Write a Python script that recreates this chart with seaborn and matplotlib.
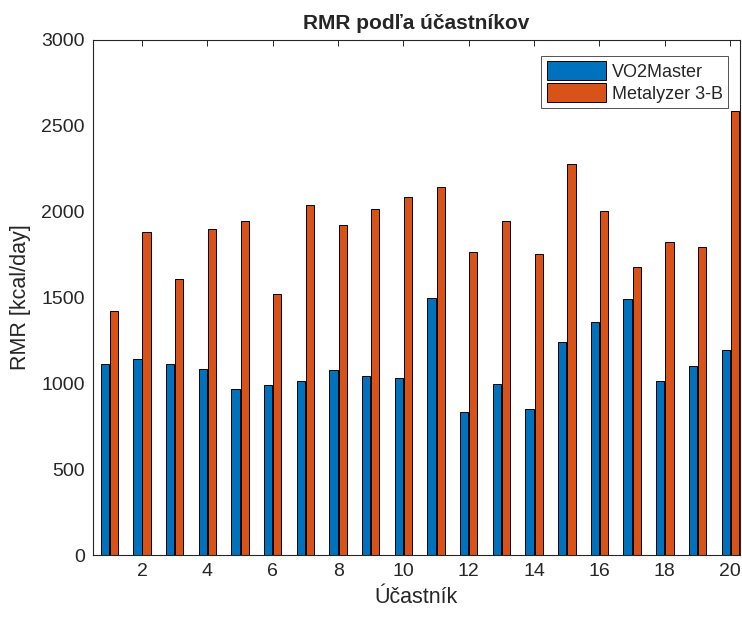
import seaborn as sns
import matplotlib.pyplot as plt
import pandas as pd

# RMR namerane dvoma zariadeniami pre 20 ucastnikov
ucastnici = list(range(1, 21))
vo2master = [1115, 1144, 1115, 1086, 965, 992, 1012, 1076, 1045, 1033,
             1500, 835, 998, 853, 1238, 1359, 1492, 1016, 1103, 1196]
metalyzer = [1423, 1884, 1605, 1901, 1948, 1521, 2041, 1924, 2017, 2087,
             2145, 1767, 1948, 1754, 2279, 2004, 1678, 1826, 1795, 2587]
zariadenia = ["VO2Master", "Metalyzer 3-B"]
farby = ["#0072BD", "#D95319"]

df = pd.DataFrame({
    "Účastník": ucastnici * 2,
    "RMR": vo2master + metalyzer,
    "Zariadenie": [zariadenia[0]] * 20 + [zariadenia[1]] * 20,
})

sns.set_style("white")
plt.rcParams["font.family"] = ["Liberation Sans", "DejaVu Sans"]

fig = plt.figure(figsize=(7.42, 6.17), dpi=100)
ax = fig.add_axes([93 / 742, 62 / 617, 647 / 742, 515 / 617])

sns.barplot(data=df, x="Účastník", y="RMR", hue="Zariadenie",
            native_scale=True, width=0.56, gap=0.1, palette=farby,
            saturation=1, edgecolor="black", linewidth=0.7,
            errorbar=None, ax=ax)

ax.set_xlim(0.5, 20.3)
ax.set_ylim(0, 3000)
ax.set_xticks(range(2, 21, 2))
ax.set_yticks(range(0, 3001, 500))
ax.tick_params(direction="in", top=True, right=True, length=4, width=0.7,
               labelsize=14, colors="#262626", pad=6)
for s in ax.spines.values():
    s.set_color("#262626")
    s.set_linewidth(0.8)

ax.set_title("RMR podľa účastníkov", fontsize=15, fontweight="bold", pad=8)
ax.set_xlabel("Účastník", fontsize=15.5, color="#262626", labelpad=5)
ax.set_ylabel("RMR [kcal/day]", fontsize=15.5, color="#262626", labelpad=7)

handles, labels = ax.get_legend_handles_labels()
leg = ax.legend(handles, labels, loc="upper right",
                bbox_to_anchor=(0.9815, 0.969), borderaxespad=0,
                fontsize=13, fancybox=False, frameon=True, edgecolor="#262626",
                handlelength=3.3, handleheight=1.2, handletextpad=0.3,
                labelspacing=0.15, borderpad=0.3)
leg.get_frame().set_linewidth(0.7)

fig.savefig("out.png", dpi=100)
